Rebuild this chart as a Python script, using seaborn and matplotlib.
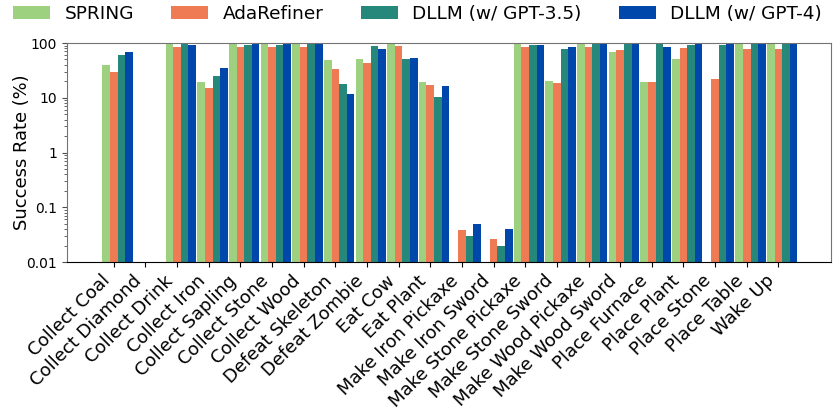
import numpy as np
import pandas as pd
import matplotlib
matplotlib.use("Agg")
import matplotlib.pyplot as plt
import seaborn as sns

tasks = ["Collect Coal", "Collect Diamond", "Collect Drink", "Collect Iron",
         "Collect Sapling", "Collect Stone", "Collect Wood", "Defeat Skeleton",
         "Defeat Zombie", "Eat Cow", "Eat Plant", "Make Iron Pickaxe",
         "Make Iron Sword", "Make Stone Pickaxe", "Make Stone Sword",
         "Make Wood Pickaxe", "Make Wood Sword", "Place Furnace", "Place Plant",
         "Place Stone", "Place Table", "Wake Up"]

methods = ["SPRING", "AdaRefiner", "DLLM (w/ GPT-3.5)", "DLLM (w/ GPT-4)"]

spring = [40, 0, 100, 19.4, 100, 100, 100, 49, 51, 100, 19.4, 0,
          0, 100, 20, 100, 68.5, 19.4, 51, 0, 100, 100]
adarefiner = [30, 0, 84.5, 15, 84.5, 84.5, 84.5, 33.5, 43, 88, 17, 0.0385,
              0.026, 84.5, 18.6, 84.5, 74.5, 19.4, 81, 22, 78, 78]
dllm_35 = [60, 0, 100, 25, 92, 92, 100, 17.8, 88, 51, 10.3, 0.030,
           0.0196, 92, 78, 100, 100, 100, 92, 92, 100, 100]
dllm_4 = [68.5, 0, 92, 35, 97, 97, 100, 11.7, 78, 53, 16.4, 0.049,
          0.040, 92, 84.5, 100, 100, 84.5, 97, 97, 100, 97]

colors = ["#9dd17f", "#ee7b54", "#26877b", "#0047ab"]

ytick_vals = [0.01, 0.1, 1, 10, 100]
ytick_labels = ["0.01", "0.1", "1", "10", "100"]

rows = []
for m, vals in zip(methods, [spring, adarefiner, dllm_35, dllm_4]):
    for t, v in zip(tasks, vals):
        rows.append({"task": t, "method": m, "rate": v if v > 0 else np.nan})
df = pd.DataFrame(rows)

fig = plt.figure(figsize=(8.35, 4.12), dpi=100)
ax = fig.add_axes([0.0802, 0.364, 0.9153, 0.5316])

sns.barplot(data=df, x="task", y="rate", hue="method", order=tasks,
            hue_order=methods, palette=colors, width=0.96, saturation=1,
            errorbar=None, ax=ax)

ax.set_yscale("log")
ax.set_ylim(0.01, 100)
ax.set_yticks(ytick_vals, ytick_labels, fontsize=10)
ax.yaxis.set_minor_locator(matplotlib.ticker.LogLocator(base=10, subs=np.arange(2, 10)))
ax.yaxis.set_minor_formatter(matplotlib.ticker.NullFormatter())
ax.set_xlim(-1.6, 22.55)
ax.set_xticks(np.arange(len(tasks)) - 0.12)
ax.set_xticklabels(tasks, rotation=45, ha="right", fontsize=13)
ax.set_xlabel("")
ax.set_ylabel("Success Rate (%)", fontsize=12.9)
ax.yaxis.set_label_coords(-0.047, 0.5)

for side in ["top", "left", "right"]:
    ax.spines[side].set_color("0.45")
ax.spines["bottom"].set_color("black")
ax.tick_params(axis="y", which="both", colors="0.3", labelcolor="black")

handles, labels = ax.get_legend_handles_labels()
if ax.get_legend() is not None:
    ax.get_legend().remove()
fig.legend(handles, labels, loc="upper center", bbox_to_anchor=(0.5, 1.007),
           ncol=4, frameon=False, fontsize=13.3, borderaxespad=0)

fig.savefig("out.png", dpi=100)
